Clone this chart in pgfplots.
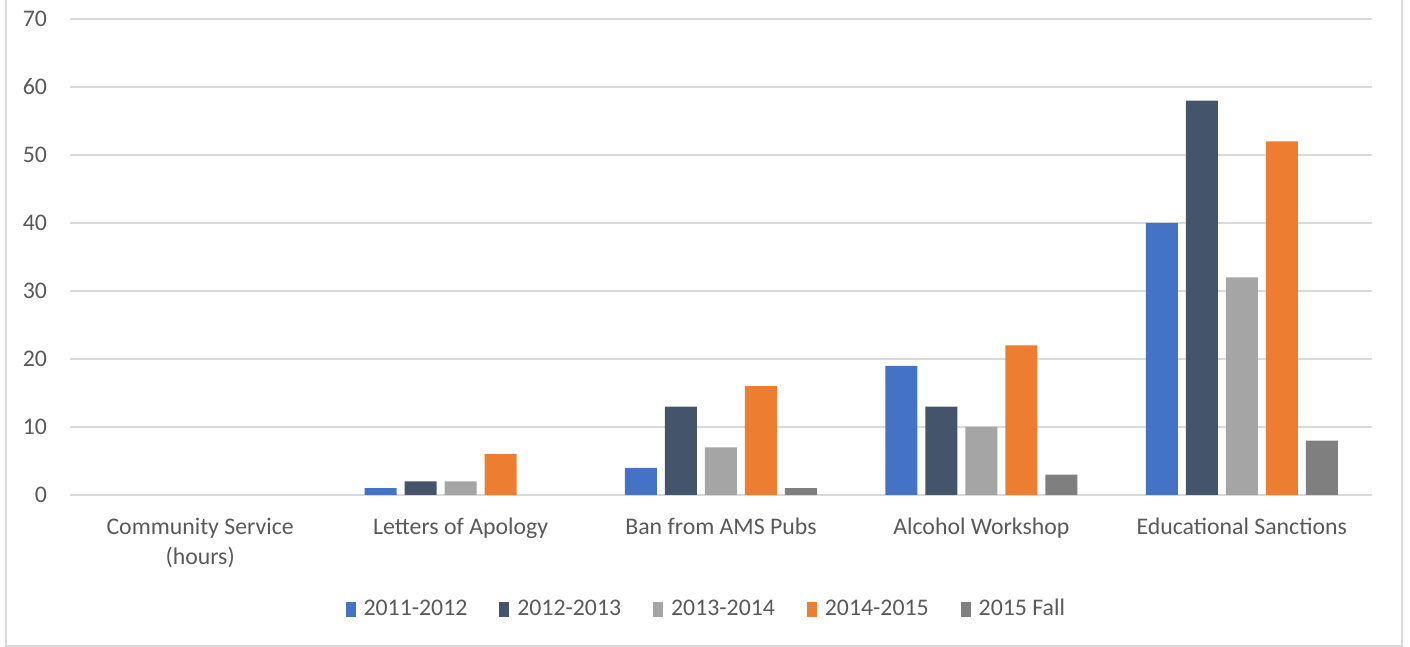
\documentclass[border=0pt]{standalone}
\usepackage{pgfplots}
\pgfplotsset{compat=1.18}
\usepackage{fontspec}
\setmainfont{Carlito}
\definecolor{cA}{HTML}{4472C4}
\definecolor{cB}{HTML}{44546A}
\definecolor{cC}{HTML}{A5A5A5}
\definecolor{cD}{HTML}{ED7D31}
\definecolor{cE}{HTML}{7F7F7F}
\definecolor{gridgray}{HTML}{D9D9D9}
\definecolor{labelgray}{HTML}{595959}
\definecolor{framegray}{HTML}{D9D9D9}
\begin{document}
\begin{tikzpicture}[x=1pt,y=1pt]
\useasboundingbox (0,0) rectangle (705,323.5);
\draw[color=framegray, line width=1pt] (3,340) -- (3,0.5) -- (701,0.5) -- (701,340);
\begin{axis}[
  at={(35pt,76pt)}, anchor=south west,
  scale only axis, width=651pt, height=238pt,
  ybar=4pt, bar width=16pt,
  xmin=-0.5, xmax=4.5, ymin=0, ymax=70,
  restrict y to domain=0.001:100,
  xtick={0,1,2,3,4},
  xticklabels={{Community Service\\(hours)},{Letters of Apology},{Ban from AMS Pubs},{Alcohol Workshop},{Educational Sanctions}},
  ytick={0,10,...,70},
  ymajorgrids, grid style={gridgray, line width=0.8pt},
  axis line style={draw=none},
  major tick length=0pt,
  tick label style={font=\fontsize{11.9}{15}\selectfont, text=labelgray},
  /pgf/number format/assume math mode=true,
  xticklabel style={align=center, yshift=-8pt},
  yticklabel style={xshift=-8pt},
  legend style={at={(0.491,-0.24)}, anchor=center, draw=none,
    font=\fontsize{11.9}{14}\selectfont, text=labelgray,
    /tikz/every even column/.append style={column sep=12pt},
    nodes={inner xsep=4pt}},
  legend columns=5,
  legend image code/.code={\fill[#1] (0pt,-3.8pt) rectangle (5pt,3.8pt);},
]
\addplot[fill=cA, draw=none] coordinates {(0,0) (1,1) (2,4) (3,19) (4,40)};
\addplot[fill=cB, draw=none] coordinates {(0,0) (1,2) (2,13) (3,13) (4,58)};
\addplot[fill=cC, draw=none] coordinates {(0,0) (1,2) (2,7) (3,10) (4,32)};
\addplot[fill=cD, draw=none] coordinates {(0,0) (1,6) (2,16) (3,22) (4,52)};
\addplot[fill=cE, draw=none] coordinates {(0,0) (1,0) (2,1) (3,3) (4,8)};
\legend{2011-2012,2012-2013,2013-2014,2014-2015,2015 Fall}
\end{axis}
\end{tikzpicture}
\end{document}
